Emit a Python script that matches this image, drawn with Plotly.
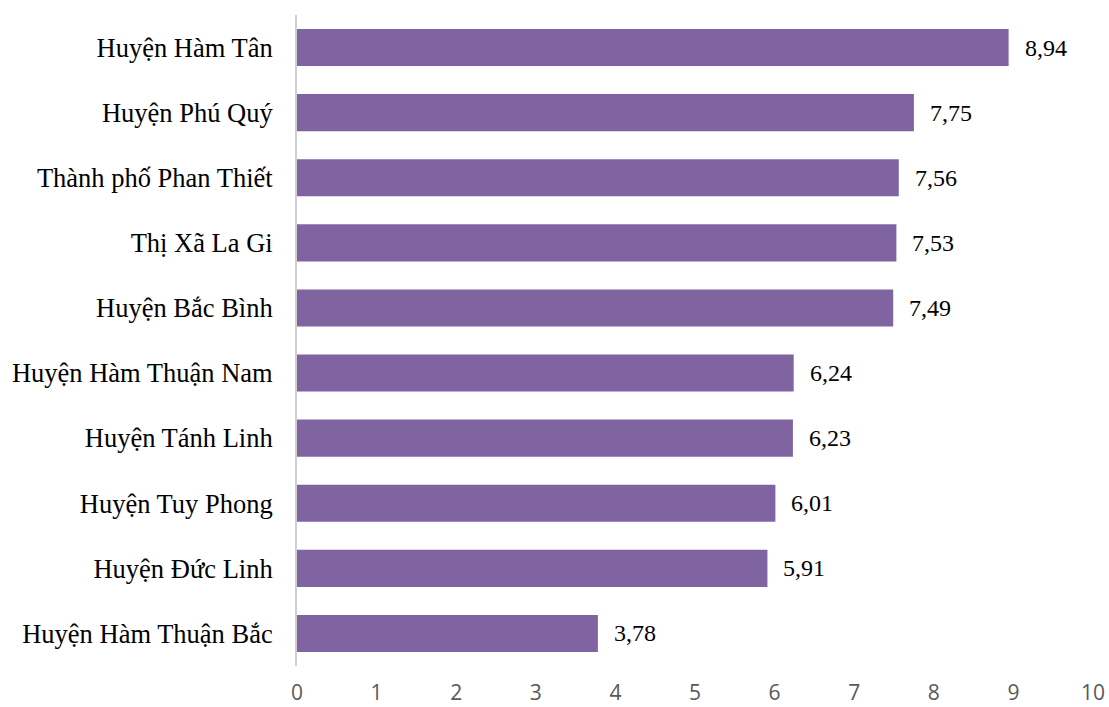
import plotly.graph_objects as go

districts = [
    "Huyện Hàm Tân",
    "Huyện Phú Quý",
    "Thành phố Phan Thiết",
    "Thị Xã La Gi",
    "Huyện Bắc Bình",
    "Huyện Hàm Thuận Nam",
    "Huyện Tánh Linh",
    "Huyện Tuy Phong",
    "Huyện Đức Linh",
    "Huyện Hàm Thuận Bắc",
]
values = [8.94, 7.75, 7.56, 7.53, 7.49, 6.24, 6.23, 6.01, 5.91, 3.78]
x_ticks = list(range(0, 11))

BAR_COLOR = "#8064A2"
SERIF = "Liberation Serif, Times New Roman, serif"
SANS = "Open Sans, Calibri, sans-serif"

fig = go.Figure(
    go.Bar(
        x=values,
        y=districts,
        orientation="h",
        marker=dict(color=BAR_COLOR, line=dict(width=0)),
        width=0.57,
        hoverinfo="skip",
    )
)

# value labels to the right of each bar, decimal comma
for d, v in zip(districts, values):
    fig.add_annotation(
        x=v, y=d, text=f"{v:.2f}".replace(".", ","),
        xanchor="left", yanchor="middle", xshift=14, showarrow=False,
        font=dict(family=SERIF, size=24, color="#000000"),
    )

fig.update_layout(
    width=1109, height=707,
    margin=dict(l=297, r=16, t=15, b=41),
    paper_bgcolor="white", plot_bgcolor="white",
    showlegend=False,
    xaxis=dict(
        range=[0, 10], tickvals=x_ticks, ticktext=[str(t) for t in x_ticks],
        showgrid=False, zeroline=False, showline=False, automargin=False,
        ticks="outside", ticklen=8, tickcolor="rgba(0,0,0,0)",
        tickfont=dict(family=SANS, size=21, color="#595959"),
    ),
    yaxis=dict(
        autorange="reversed", showgrid=False, zeroline=False, automargin=False,
        showline=True, linecolor="#D0D0D0", linewidth=2,
        ticks="outside", ticklen=17, tickcolor="rgba(0,0,0,0)",
        tickfont=dict(family=SERIF, size=26.5, color="#000000"),
    ),
)

fig.write_html("out.html")
